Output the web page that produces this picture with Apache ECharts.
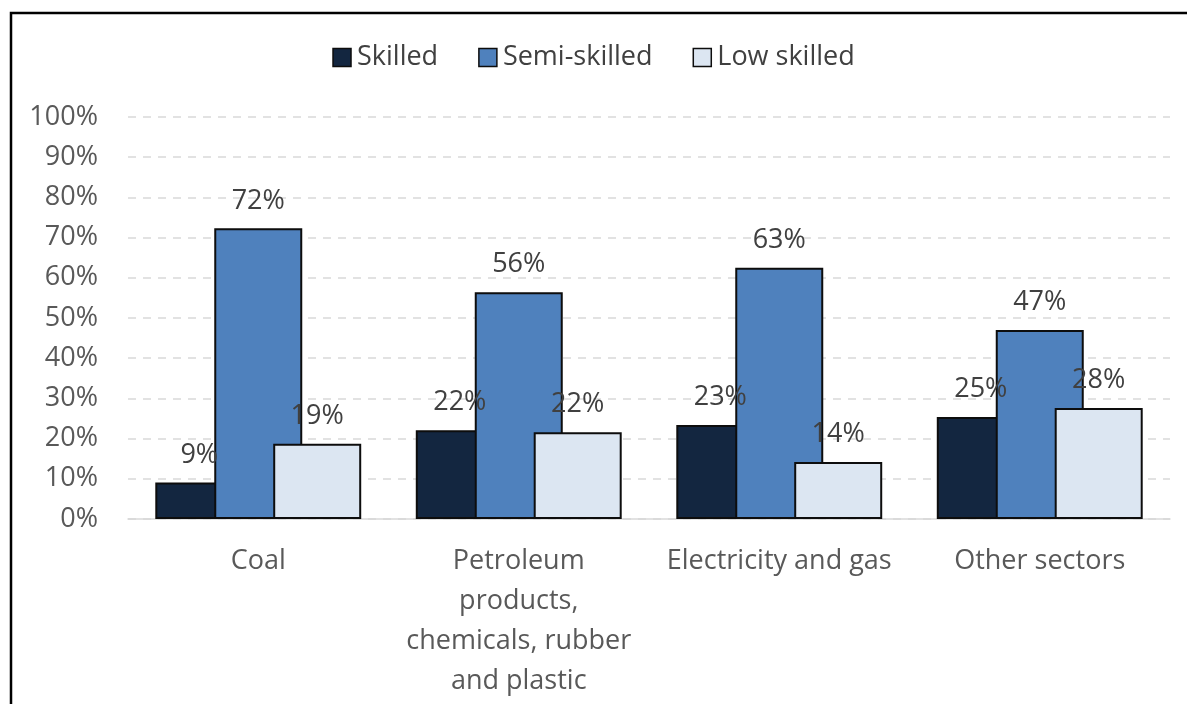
<!DOCTYPE html>
<html>
<head>
<meta charset="utf-8">
<script src="https://cdn.jsdelivr.net/npm/echarts@6/dist/echarts.min.js"></script>
<style>
  html, body { margin: 0; padding: 0; background: #fff; }
  #chart { width: 1187px; height: 704px; }
</style>
</head>
<body>
<div id="chart"></div>
<script>
// Values (share of workers, %). Labels show them rounded.
const sectors = [
  "Coal",
  "Petroleum\nproducts,\nchemicals, rubber\nand plastic",
  "Electricity and gas",
  "Other sectors",
];
const skilled = [9.1, 22.1, 23.4, 25.4];
const semiSkilled = [72.3, 56.4, 62.5, 47.0];
const lowSkilled = [18.7, 21.6, 14.2, 27.6];

const FONT = "'Open Sans', sans-serif";
const SIZE = 27;

function barSeries(name, data, color) {
  return {
    name,
    type: "bar",
    data,
    barWidth: 88,
    barGap: "-33%", // Excel-style overlap: each bar partly hides the one before
    itemStyle: { color, borderColor: "#0d0d0d", borderWidth: 2 },
    label: {
      show: true,
      position: "top",
      distance: 14,
      color: "#404040",
      fontSize: SIZE,
      fontFamily: FONT,
      formatter: (p) => Math.round(p.value) + "%",
    },
  };
}

const chart = echarts.init(document.getElementById("chart"));
chart.setOption({
  animation: false,
  textStyle: { fontFamily: FONT },
  legend: {
    top: 39,
    left: "center",
    icon: "rect",
    itemWidth: 18,
    itemHeight: 18,
    itemGap: 40,
    textStyle: { fontSize: SIZE, color: "#404040", fontFamily: FONT, padding: [0, 0, 0, 1] },
    itemStyle: { borderColor: "#0d0d0d", borderWidth: 1.5 },
  },
  grid: { left: 128, right: 17, top: 117, bottom: 185, containLabel: false },
  xAxis: {
    type: "category",
    data: sectors,
    axisLine: { lineStyle: { color: "#d9d9d9", width: 1.5 } },
    axisTick: { show: false },
    axisLabel: {
      color: "#595959",
      fontSize: SIZE,
      fontFamily: FONT,
      lineHeight: 40,
      margin: 22,
      interval: 0,
    },
  },
  yAxis: {
    type: "value",
    min: 0,
    max: 100,
    interval: 10,
    axisLine: { show: false },
    axisTick: { show: false },
    axisLabel: {
      formatter: "{value}%",
      color: "#595959",
      fontSize: SIZE,
      fontFamily: FONT,
      margin: 30,
    },
    splitLine: { lineStyle: { color: "#d9d9d9", type: [8, 7], width: 1.5 } },
  },
  series: [
    barSeries("Skilled", skilled, "#132640"),
    barSeries("Semi-skilled", semiSkilled, "#4f81bd"),
    barSeries("Low skilled", lowSkilled, "#dce6f2"),
  ],
  // frame of the original figure: only left and top edges are visible
  graphic: [{
    type: "polyline",
    shape: { points: [[11, 704], [11, 13], [1187, 13]] },
    style: { stroke: "#000", lineWidth: 2.5, fill: null },
  }],
});
window.addEventListener("resize", () => chart.resize());
</script>
</body>
</html>
